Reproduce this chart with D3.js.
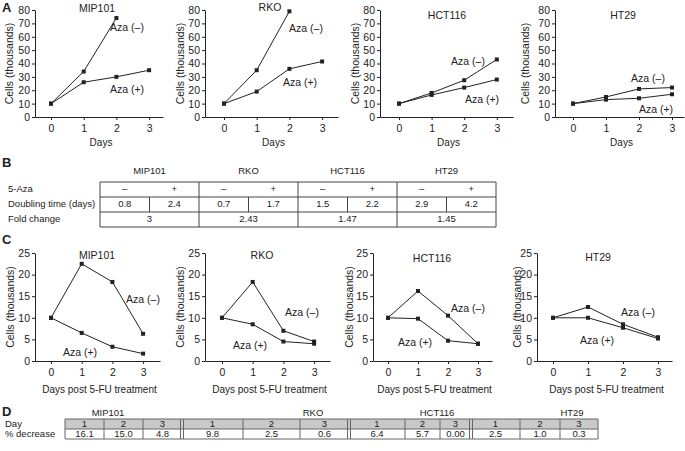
<!DOCTYPE html>
<html><head><meta charset="utf-8">
<script src="https://cdn.jsdelivr.net/npm/d3@7"></script>
<style>
body{margin:0;background:#fff;}
svg text{font-family:"Liberation Sans",Arial,sans-serif;fill:#222;}
</style></head>
<body><svg id="c" width="685" height="451"></svg>
<script>
// ---------- data ----------
const cellLines = ["MIP101","RKO","HCT116","HT29"];
const days = [0,1,2,3];
const yTicksA = [0,10,20,30,40,50,60,70,80];
const yTicksC = [0,5,10,15,20,25];
// Panel A: growth (thousands of cells)
const growthAzaNeg = [[10,34,74],[10,35,79],[10,18,27.5,43],[10,15,21,22]];
const growthAzaPos = [[10,26,30,35],[10,19,36,41.5],[10,16.5,22,28],[10,13,14,17]];
// Panel B table
const azaRow = ["–","+"];
const doublingNeg = ["0.8","0.7","1.5","2.9"];
const doublingPos = ["2.4","1.7","2.2","4.2"];
const foldChange = ["3","2.43","1.47","1.45"];
// Panel C: post 5-FU (thousands of cells)
const fuAzaNeg = [[10,22.5,18.3,6.3],[10,18.3,7,4.5],[10,16.2,10.5,4],[10,12.5,8.5,5.5]];
const fuAzaPos = [[10,6.5,3.3,1.7],[10,8.5,4.5,4],[10,9.8,4.7,4],[10,10,7.7,5.2]];
// Panel D table
const dayLabels = ["1","2","3"];
const pctDecrease = [["16.1","15.0","4.8"],["9.8","2.5","0.6"],["6.4","5.7","0.00"],["2.5","1.0","0.3"]];

// ---------- layout ----------
const svg = d3.select("#c");
const INK = "#222";
const layoutA = [
  {ax:35, x0:51, dx:32.7, xe:163, title:[97,9], ylab:5, lneg:[127,28], lpos:[127,90]},
  {ax:205, x0:224, dx:32.7, xe:338, title:[270,8], ylab:176, lneg:[306,29], lpos:[300,83]},
  {ax:380, x0:399, dx:32.6, xe:513, title:[447,16], ylab:351, lneg:[468,62], lpos:[482,100]},
  {ax:555, x0:573, dx:33, xe:684, title:[623,16], ylab:521, lneg:[648,79], lpos:[656,110]}
];
const layoutC = [
  {ax:35, x0:51, dx:30.7, xe:160, title:[97,256], ylab:6, lneg:[143,300], lpos:[80,353]},
  {ax:205, x0:222, dx:30.7, xe:330, title:[262,256], ylab:176, lneg:[302,313], lpos:[250,346]},
  {ax:373, x0:388, dx:30, xe:492, title:[432,259], ylab:345, lneg:[468,309], lpos:[415,343]},
  {ax:537, x0:553, dx:35, xe:672, title:[598,258], ylab:513, lneg:[638,313], lpos:[597,341]}
];

function drawPlot(L, i, neg, pos, yDomain, yTicks, yTop, yBot, xLabel, xLabelY) {
  const g = svg.append("g");
  const xs = d3.scaleLinear().domain([0,3]).range([L.x0, L.x0+3*L.dx]);
  const x = d3.scaleLinear().domain([xs.invert(L.ax), xs.invert(L.xe)]).range([L.ax, L.xe]);
  const y = d3.scaleLinear().domain(yDomain).range([yBot, yTop]);
  const yAx = g.append("g").attr("transform",`translate(${L.ax},0)`)
    .call(d3.axisLeft(y).tickValues(yTicks).tickFormat(d3.format("d")).tickSize(3).tickSizeOuter(0).tickPadding(2));
  const xAx = g.append("g").attr("transform",`translate(0,${yBot})`)
    .call(d3.axisBottom(x).tickValues(days).tickFormat(d3.format("d")).tickSize(3).tickSizeOuter(0).tickPadding(5));
  [yAx,xAx].forEach(a=>{
    a.selectAll("path,line").attr("stroke",INK).attr("stroke-width",1);
    a.selectAll("text").attr("font-size",10.5).attr("fill",INK);
  });
  const line = d3.line().x((d,j)=>x(days[j])).y(d=>y(d));
  [neg[i], pos[i]].forEach(s=>{
    g.append("path").attr("d",line(s)).attr("fill","none").attr("stroke",INK).attr("stroke-width",1);
    g.selectAll(null).data(s).enter().append("rect")
      .attr("x",(d,j)=>x(days[j])-2).attr("y",d=>y(d)-2).attr("width",4).attr("height",4).attr("fill",INK);
  });
  g.append("text").attr("x",L.title[0]).attr("y",L.title[1]).attr("text-anchor","middle")
    .attr("dominant-baseline","middle").attr("font-size",10.5).text(cellLines[i]);
  g.append("text").attr("x",L.lneg[0]).attr("y",L.lneg[1]).attr("text-anchor","middle")
    .attr("dominant-baseline","middle").attr("font-size",10.5).text("Aza (–)");
  g.append("text").attr("x",L.lpos[0]).attr("y",L.lpos[1]).attr("text-anchor","middle")
    .attr("dominant-baseline","middle").attr("font-size",10.5).text("Aza (+)");
  g.append("text").attr("transform",`translate(${L.ylab},${(yTop+yBot)/2}) rotate(-90)`)
    .attr("text-anchor","middle").attr("dominant-baseline","hanging").attr("font-size",10.5).text("Cells (thousands)");
  g.append("text").attr("x",(L.ax+L.xe)/2+2).attr("y",xLabelY).attr("text-anchor","middle")
    .attr("dominant-baseline","middle").attr("font-size",10).text(xLabel);
}

layoutA.forEach((L,i)=>drawPlot(L,i,growthAzaNeg,growthAzaPos,[0,80],yTicksA,10,117,"Days",143));
layoutC.forEach((L,i)=>drawPlot(L,i,fuAzaNeg,fuAzaPos,[0,25],yTicksC,253,361,"Days post 5-FU treatment",390));

// panel letters
[["A",2,9],["B",2,164],["C",2,241],["D",2,413]].forEach(([t,x,yy])=>{
  svg.append("text").attr("x",x).attr("y",yy).attr("dominant-baseline","middle")
    .attr("font-size",13).attr("font-weight","bold").attr("fill","#111").text(t);
});

// ---------- Table B ----------
(function(){
  const g = svg.append("g");
  const x0 = 100, gw = 99, rows = [182,197,212,227];
  const stroke = "#444";
  const fs = 9.5;
  cellLines.forEach((c,i)=>g.append("text").attr("x",x0+gw*i+gw/2).attr("y",171).attr("text-anchor","middle")
    .attr("dominant-baseline","middle").attr("font-size",fs).text(c));
  [["5-Aza",189.5],["Doubling time (days)",204.5],["Fold change",219.5]].forEach(([t,yy])=>
    g.append("text").attr("x",8).attr("y",yy).attr("dominant-baseline","middle").attr("font-size",fs).text(t));
  rows.forEach(yy=>g.append("line").attr("x1",x0).attr("x2",x0+4*gw).attr("y1",yy).attr("y2",yy).attr("stroke",stroke));
  for(let i=0;i<=4;i++) g.append("line").attr("x1",x0+gw*i).attr("x2",x0+gw*i).attr("y1",rows[0]).attr("y2",rows[3]).attr("stroke",stroke);
  cellLines.forEach((c,i)=>{
    const gx = x0+gw*i;
    g.append("line").attr("x1",gx+gw/2).attr("x2",gx+gw/2).attr("y1",rows[1]).attr("y2",rows[2]).attr("stroke",stroke);
    azaRow.forEach((s,k)=>g.append("text").attr("x",gx+gw/4+k*gw/2).attr("y",189.5).attr("text-anchor","middle")
      .attr("dominant-baseline","middle").attr("font-size",fs).text(s));
    [doublingNeg[i],doublingPos[i]].forEach((s,k)=>g.append("text").attr("x",gx+gw/4+k*gw/2).attr("y",204.5)
      .attr("text-anchor","middle").attr("dominant-baseline","middle").attr("font-size",fs).text(s));
    g.append("text").attr("x",gx+gw/2).attr("y",219.5).attr("text-anchor","middle")
      .attr("dominant-baseline","middle").attr("font-size",fs).text(foldChange[i]);
  });
})();

// ---------- Table D ----------
(function(){
  const g = svg.append("g");
  // column boundaries for each group
  const cols = [[65,104,143,182],[182,243,300,349],[349,405,440,471],[471,520,560,598]];
  const titleX = [108,313,437,572];
  const yTop = 419, yMid = 429, yBot = 439;
  const stroke = "#666";
  const fs = 9.5;
  cellLines.forEach((c,i)=>g.append("text").attr("x",titleX[i]).attr("y",413)
    .attr("text-anchor","middle").attr("dominant-baseline","middle").attr("font-size",fs).text(c));
  g.append("text").attr("x",5).attr("y",424).attr("dominant-baseline","middle").attr("font-size",fs).text("Day");
  g.append("text").attr("x",5).attr("y",434.5).attr("dominant-baseline","middle").attr("font-size",fs).text("% decrease");
  g.append("rect").attr("x",65).attr("y",yTop).attr("width",598-65).attr("height",yMid-yTop).attr("fill","#c9c9c9");
  [yTop,yMid,yBot].forEach(yy=>g.append("line").attr("x1",65).attr("x2",598).attr("y1",yy).attr("y2",yy).attr("stroke",stroke));
  cols.forEach((c,i)=>{
    for(let k=0;k<3;k++){
      const cx = (c[k]+c[k+1])/2;
      g.append("text").attr("x",cx).attr("y",424.5).attr("text-anchor","middle").attr("dominant-baseline","middle").attr("font-size",fs).text(dayLabels[k]);
      g.append("text").attr("x",cx).attr("y",434.5).attr("text-anchor","middle").attr("dominant-baseline","middle").attr("font-size",fs).text(pctDecrease[i][k]);
      if(k>0) g.append("line").attr("x1",c[k]).attr("x2",c[k]).attr("y1",yTop).attr("y2",yBot).attr("stroke",stroke);
    }
  });
  [65,598].forEach(xx=>g.append("line").attr("x1",xx).attr("x2",xx).attr("y1",yTop).attr("y2",yBot).attr("stroke",stroke));
  [182,349,471].forEach(xx=>[-1.5,1.5].forEach(o=>g.append("line").attr("x1",xx+o).attr("x2",xx+o).attr("y1",yTop).attr("y2",yBot).attr("stroke",stroke)));
})();
</script></body></html>
